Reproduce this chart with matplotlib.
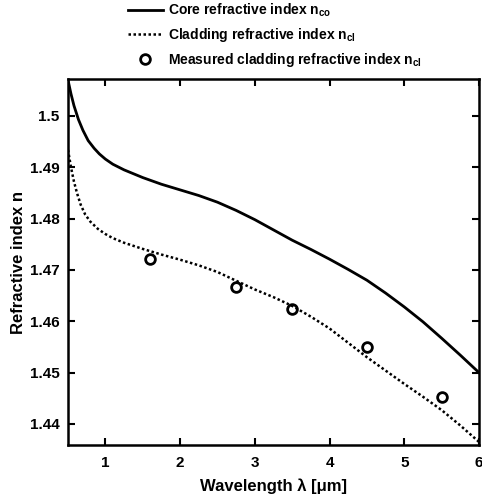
import matplotlib
matplotlib.use('Agg')
import matplotlib.pyplot as plt

plt.rcParams['font.family'] = ['Liberation Sans', 'DejaVu Sans']
plt.rcParams['font.weight'] = 'bold'
plt.rcParams['mathtext.fontset'] = 'custom'
plt.rcParams['mathtext.rm'] = 'Liberation Sans:bold'
plt.rcParams['mathtext.bf'] = 'Liberation Sans:bold'
plt.rcParams['mathtext.it'] = 'Liberation Sans:bold'
plt.rcParams['mathtext.default'] = 'bf'

# core refractive index (solid line)
core_x = [0.5, 0.54, 0.58, 0.64, 0.7, 0.77, 0.85, 0.92, 1.0, 1.1, 1.25, 1.4, 1.5, 1.75,
          2.0, 2.25, 2.5, 2.75, 3.0, 3.25, 3.5, 3.75, 4.0, 4.25, 4.5, 4.75, 5.0, 5.25,
          5.5, 5.75, 6.0]
core_y = [1.5070, 1.5043, 1.5020, 1.4993, 1.4972, 1.4952, 1.4937, 1.4926, 1.4916, 1.4906,
          1.4895, 1.4886, 1.4880, 1.4867, 1.4856, 1.4845, 1.4832, 1.4816, 1.4798, 1.4778,
          1.4758, 1.4740, 1.4721, 1.4701, 1.4680, 1.4655, 1.4628, 1.4599, 1.4567, 1.4534,
          1.4500]

# cladding refractive index (dotted line)
clad_x = [0.5, 0.54, 0.58, 0.62, 0.67, 0.73, 0.8, 0.9, 1.0, 1.1, 1.25, 1.5, 1.75, 2.0,
          2.25, 2.5, 2.75, 3.0, 3.25, 3.5, 3.75, 4.0, 4.25, 4.5, 4.75, 5.0, 5.25, 5.5,
          5.75, 6.0]
clad_y = [1.4934, 1.4900, 1.4872, 1.4850, 1.4827, 1.4808, 1.4794, 1.4780, 1.4770, 1.4762,
          1.4753, 1.4741, 1.4730, 1.4720, 1.4709, 1.4696, 1.4679, 1.4662, 1.4647, 1.4630,
          1.4609, 1.4586, 1.4558, 1.4530, 1.4504, 1.4478, 1.4453, 1.4427, 1.4397, 1.4365]

# measured cladding index
meas_x = [1.6, 2.75, 3.5, 4.5, 5.5]
meas_y = [1.4722, 1.4667, 1.4623, 1.4549, 1.4452]

xticks = [1, 2, 3, 4, 5, 6]
yticks = [1.44, 1.45, 1.46, 1.47, 1.48, 1.49, 1.50]
ytick_labels = ['1.44', '1.45', '1.46', '1.47', '1.48', '1.49', '1.5']

fig = plt.figure(figsize=(4.82, 5.01), dpi=100)
ax = fig.add_axes([68 / 482, 1 - 445 / 501, 411 / 482, 366 / 501])

ax.plot(core_x, core_y, '-', color='black', lw=2.0, label='Core refractive index n$_{co}$')
ax.plot(clad_x, clad_y, color='black', lw=1.8, ls=(0, (1, 1)),
        label='Cladding refractive index n$_{cl}$')
ax.plot(meas_x, meas_y, 'o', color='black', mfc='none', mew=2.0, ms=7,
        label='Measured cladding refractive index n$_{cl}$')

ax.set_xlim(0.5, 6.0)
ax.set_ylim(1.4359, 1.5072)
ax.set_xticks(xticks)
ax.set_xticklabels([str(t) for t in xticks])
ax.set_yticks(yticks)
ax.set_yticklabels(ytick_labels)
ax.tick_params(direction='in', top=True, right=True, length=5, width=1.5, labelsize=11)
ax.tick_params(axis='x', pad=8)
ax.tick_params(axis='y', pad=6)
for lab in ax.get_xticklabels() + ax.get_yticklabels():
    lab.set_fontweight('bold')
for s in ax.spines.values():
    s.set_linewidth(1.8)

ax.set_xlabel('Wavelength λ [μm]', fontsize=12, fontweight='bold', labelpad=6)
ax.set_ylabel('Refractive index n', fontsize=12, fontweight='bold', labelpad=3)

leg = ax.legend(loc='upper left', bbox_to_anchor=(128 / 482, 1 - 2 / 501),
                bbox_transform=fig.transFigure, frameon=False, fontsize=10,
                borderaxespad=0, borderpad=0, handlelength=2.5, handletextpad=0.4,
                labelspacing=0.5)
for t in leg.get_texts():
    t.set_fontweight('bold')

fig.savefig('out.png', dpi=100)
